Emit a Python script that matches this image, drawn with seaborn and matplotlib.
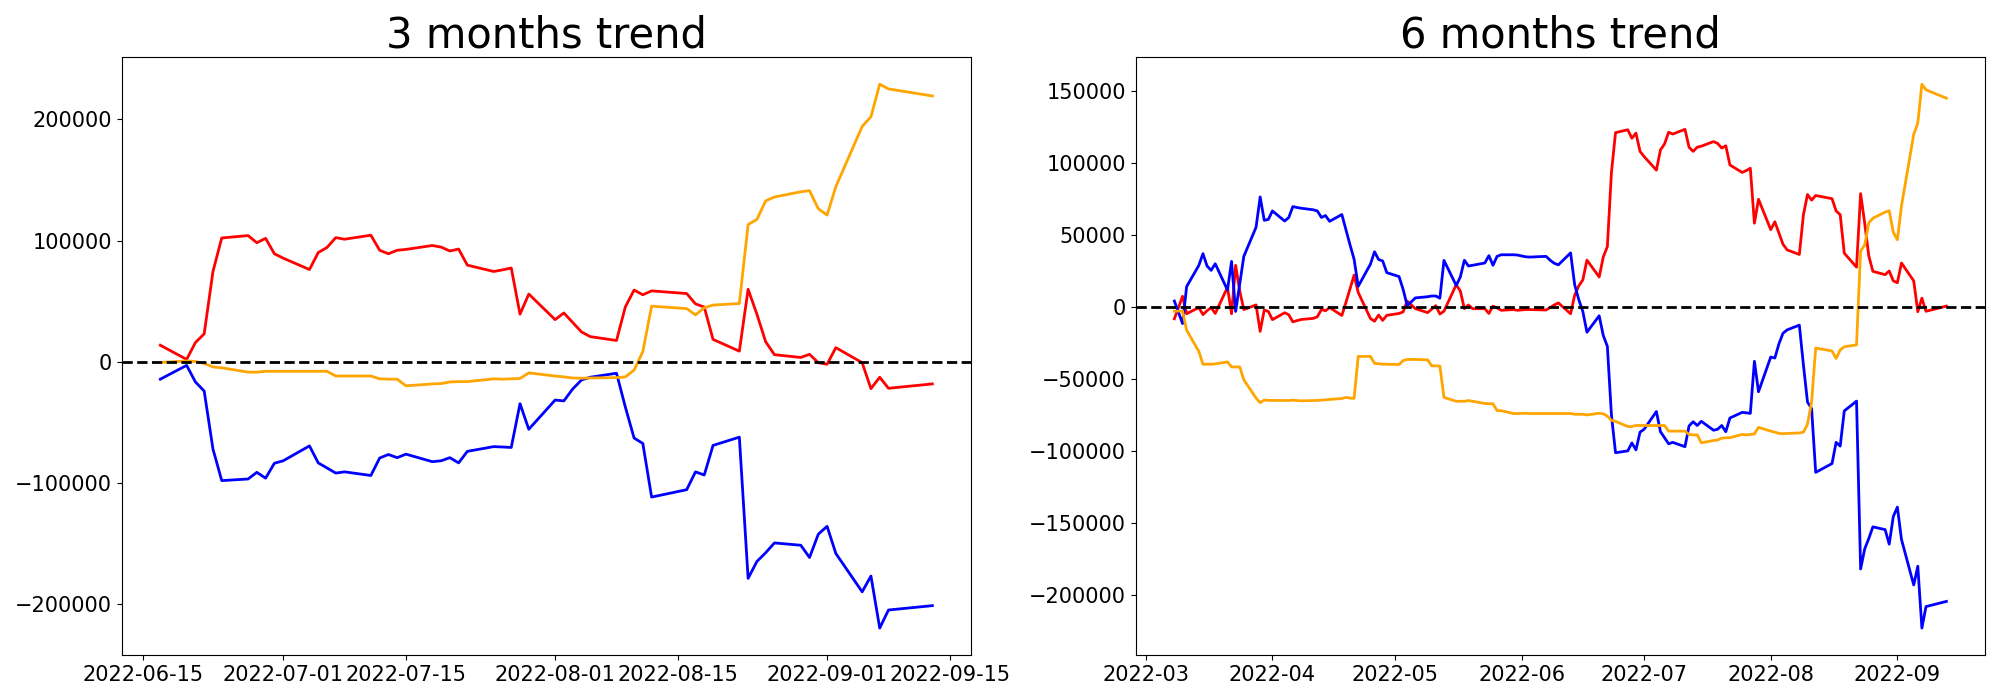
import numpy as np
import pandas as pd
import matplotlib
matplotlib.use("Agg")
import matplotlib.pyplot as plt
import seaborn as sns

# KRX trading calendar (market holidays in the period)
holidays = ["2022-03-09", "2022-05-05", "2022-06-01", "2022-06-06",
            "2022-08-15", "2022-09-09", "2022-09-12"]
dates_6m = pd.bdate_range("2022-03-08", "2022-09-13", freq="C", holidays=holidays)
dates_3m = dates_6m[dates_6m >= "2022-06-17"]

# ---- 3 months trend (values in thousands) ----
red_3m = [13.7, 2.0, 15.9, 23.1, 74.5, 102.1, 104.1, 98.2, 101.8, 89.1,
          85.5, 76.1, 90.1, 94.3, 102.4, 101.1, 104.4, 92.0, 89.1, 92.0, 92.7,
          95.9, 94.6, 91.4, 93.0, 79.7, 74.5, 75.8, 77.4, 39.3, 55.9,
          34.8, 40.3, 32.5, 24.7, 20.8, 17.6, 45.2, 59.2, 55.3, 58.5, 56.3,
          47.8, 45.2, 18.5, 8.8, 59.8, 39.3, 16.6, 5.9, 3.6, 6.2, -0.7,
          -2.0, 11.7, -0.7, -22.1, -12.7, -21.8, -18.2]
blue_3m = [-14.3, -2.9, -16.6, -24.1, -71.9, -97.9, -96.6, -91.1, -95.9, -83.6,
           -81.6, -69.3, -83.3, -87.5, -91.7, -90.7, -93.7, -79.3, -76.4, -79.0, -76.1,
           -82.3, -81.6, -79.0, -83.3, -73.8, -69.9, -70.2, -70.6, -34.5, -55.6,
           -31.5, -32.2, -22.4, -15.0, -12.7, -9.4, -37.1, -62.8, -67.3, -111.5, -105.4,
           -90.7, -93.3, -68.9, -62.1, -178.5, -164.6, -157.4, -149.3, -151.2, -161.3, -142.1,
           -135.6, -158.0, -189.6, -176.6, -219.5, -204.6, -201.0]
orange_3m = [-0.5, 0.7, 0.3, -1.3, -4.2, -4.9, -8.5, -8.5, -7.8, -7.8,
             -7.8, -7.8, -7.8, -7.8, -11.7, -11.7, -11.7, -14.0, -14.3, -14.3, -19.8,
             -18.2, -17.9, -16.6, -16.3, -16.3, -14.0, -14.3, -14.0, -13.7, -9.1,
             -11.7, -12.4, -13.3, -13.5, -13.3, -13.0, -12.4, -6.8, 8.5, 45.9, 43.9,
             38.7, 44.6, 46.8, 48.1, 113.2, 117.4, 132.7, 135.9, 140.2, 141.1, 126.2,
             121.0, 144.4, 194.1, 202.0, 228.9, 225.0, 219.2]

# ---- 6 months trend (values in thousands) ----
red_6m = [-8.3, 7.3, -4.8, -0.5, -5.4, -2.7, -0.5, -4.6, 13.5, -4.8, 28.8, 11.0, -1.9, 1.3, -17.0, -2.2, -3.2,
          -8.9, -4.1, -5.5, -10.4, -9.6, -8.8, -8.0, -6.9, -1.9, -2.7, -0.5, -6.0, 3.0, 12.5, 22.0, 10.0, -8.1, -10.0, -5.7, -9.4, -5.9,
          -4.6, -3.5, 4.0, -1.3, -4.0, -1.6, 0.8, -5.0, -3.0, 15.3, 11.0, -1.3, 1.3, -1.3, -1.3, -4.6, 0.5, -0.8, -2.4, -1.9, -2.4,
          -1.9, -1.9, -2.2, -0.5, 1.3, 2.7, -4.8, 8.1, 14.5, 18.7, 32.4, 20.7, 34.6, 41.8, 93.2, 120.8, 122.8, 116.9, 120.5, 107.8,
          104.2, 94.8, 108.8, 113.0, 121.1, 119.8, 123.1, 110.7, 107.8, 110.7, 111.4, 114.6, 113.3, 110.1, 111.7, 98.4, 93.2, 94.5, 96.1, 58.0, 74.6,
          53.5, 59.0, 51.2, 43.4, 39.5, 36.3, 63.9, 77.9, 74.0, 77.2, 75.0, 66.5, 63.9, 37.2, 27.5, 78.5, 58.0, 35.3, 24.6, 22.3, 24.9, 18.0,
          16.7, 30.4, 18.0, -3.4, 6.0, -3.1, 0.5]
blue_6m = [4.0, -11.6, 14.0, 28.8, 36.9, 28.3, 25.3, 29.9, 11.6, 31.5, -3.2, 15.9, 35.0, 55.2, 76.2, 60.0, 60.6,
           66.5, 59.5, 61.9, 69.5, 68.9, 68.4, 67.3, 66.5, 62.0, 63.3, 59.3, 64.0, 53.5, 43.0, 33.0, 14.2, 29.6, 38.2, 32.8, 31.8, 23.7,
           21.0, 12.1, 0.8, 6.2, 7.0, 7.5, 7.5, 6.0, 32.2, 14.8, 20.7, 32.3, 28.3, 28.8, 30.4, 35.5, 28.8, 35.0, 36.1, 36.1, 35.9,
           34.7, 34.5, 35.0, 32.3, 30.2, 29.1, 37.4, 15.3, 5.0, -3.3, -17.6, -6.2, -19.9, -27.4, -75.2, -101.2, -99.9, -94.4, -99.2, -86.9,
           -84.9, -72.6, -86.6, -90.8, -95.0, -94.0, -97.0, -82.6, -79.7, -82.3, -79.4, -85.6, -84.9, -82.3, -86.6, -77.1, -73.2, -73.5, -73.9, -37.8, -58.9,
           -34.8, -35.5, -25.7, -18.3, -16.0, -12.7, -40.4, -66.1, -70.6, -114.8, -108.7, -94.0, -96.6, -72.2, -65.4, -181.8, -167.9, -160.7, -152.6, -154.5, -164.6, -145.4,
           -138.9, -161.3, -192.9, -179.9, -222.8, -207.9, -204.3]
orange_6m = [-3.0, -3.0, -16.2, -31.0, -39.8, -39.8, -39.8, -39.6, -38.2, -41.7, -41.7, -41.7, -50.6, -63.3, -66.5, -64.6, -64.9,
             -64.9, -65.0, -65.0, -64.7, -65.0, -65.2, -65.0, -64.9, -64.7, -64.5, -64.2, -63.6, -62.8, -63.3, -63.5, -34.4, -34.4, -39.2, -39.5, -39.8, -39.8,
             -40.0, -37.3, -36.5, -36.5, -36.8, -40.9, -41.0, -41.0, -62.8, -65.5, -65.5, -65.5, -65.0, -65.5, -67.0, -67.2, -67.2, -72.0, -72.0, -74.0, -74.0,
             -73.8, -74.0, -74.0, -74.0, -74.0, -74.0, -74.0, -74.5, -74.5, -74.5, -75.0, -73.8, -74.2, -75.8, -78.7, -79.4, -83.0, -83.0, -82.3, -82.3,
             -82.3, -82.3, -82.3, -82.3, -86.2, -86.2, -86.2, -88.5, -88.8, -88.8, -94.3, -92.7, -92.4, -91.1, -90.8, -90.8, -88.5, -88.8, -88.5, -88.2, -83.6,
             -86.2, -86.9, -87.8, -88.0, -87.8, -87.5, -86.9, -81.3, -66.0, -28.6, -30.6, -35.8, -29.9, -27.7, -26.4, 38.7, 42.9, 58.2, 61.4, 65.7, 66.6, 51.7,
             46.5, 69.9, 119.6, 127.5, 154.4, 150.5, 144.7]

colors = ["red", "blue", "orange"]
panels = [
    ("3 months trend", dates_3m, [red_3m, blue_3m, orange_3m]),
    ("6 months trend", dates_6m, [red_6m, blue_6m, orange_6m]),
]

fig, axes = plt.subplots(1, 2, figsize=(20, 7))
for ax, (title, dates, series) in zip(axes, panels):
    for vals, color in zip(series, colors):
        df = pd.DataFrame({"date": dates, "value": np.asarray(vals) * 1000})
        sns.lineplot(data=df, x="date", y="value", color=color, linewidth=2, ax=ax)
    ax.axhline(0, color="black", linestyle="--", linewidth=2)
    ax.set_title(title, fontsize=30)
    ax.tick_params(axis="both", labelsize=15)
    ax.set_xlabel("")
    ax.set_ylabel("")

plt.tight_layout()
fig.savefig("out.png", dpi=100)
